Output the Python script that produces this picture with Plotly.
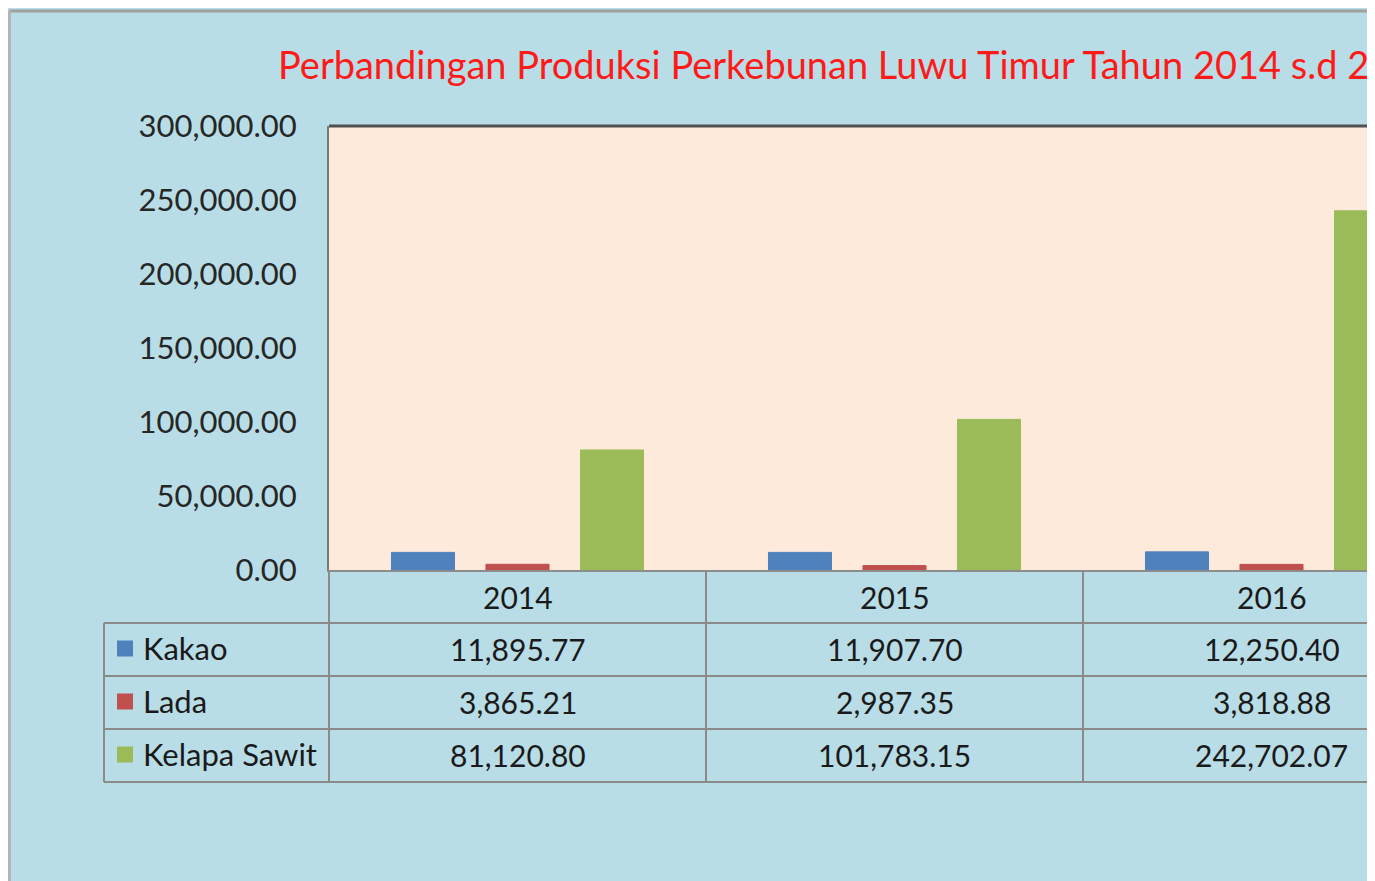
import plotly.graph_objects as go

# ---- data ----
years = ["2014", "2015", "2016"]
series_names = ["Kakao", "Lada", "Kelapa Sawit"]
kakao = [11895.77, 11907.70, 12250.40]
lada = [3865.21, 2987.35, 3818.88]
kelapa_sawit = [81120.80, 101783.15, 242702.07]
series_values = [kakao, lada, kelapa_sawit]
series_colors = ["#4F81BD", "#C0504D", "#9BBB59"]
title_text = "Perbandingan Produksi Perkebunan Luwu Timur Tahun 2014 s.d 2016"

# ---- layout geometry (screen pixels; page body margin is 8px) ----
OFF = 8
SW, SH = 1375, 881
W, H = SW - OFF, SH - OFF                 # figure size
SL, ST, SB = 329, 126, 570                # plot area left, top, bottom (screen)
L, T, B = SL - OFF, ST - OFF, SB - OFF    # in figure pixels
CAT_PX = 377                              # width of one category column
X0 = -0.5
X1 = X0 + (W - L) / CAT_PX                # visible category range (cut at right edge)

FONT = "Lato"
BG_BLUE = "#B8DDE7"
PEACH = "#FDEADA"
GRID = "#8A8A8A"
TXT = "#1a1a1a"


def px(sx):
    return (sx - OFF - L) / (W - L)


def py(sy):
    return (B - (sy - OFF)) / (B - T)


def cat_paper(v):
    return (v - X0) / (X1 - X0)


fig = go.Figure()
for name, vals, col in zip(series_names, series_values, series_colors):
    fig.add_trace(go.Bar(
        x=years, y=vals, name=name,
        marker=dict(color=col, line=dict(color=col, width=1)),
        showlegend=False,
    ))

shapes = []
annotations = []

# outer chart border (top and left)
shapes.append(dict(type="line", xref="paper", yref="paper",
                   x0=px(9), x1=px(SW + 10), y0=py(11), y1=py(11),
                   line=dict(color="#A0A0A0", width=3)))
shapes.append(dict(type="line", xref="paper", yref="paper",
                   x0=px(9.5), x1=px(9.5), y0=py(11), y1=py(SH + 10),
                   line=dict(color="#B4B4B4", width=3)))

# plot area top border
shapes.append(dict(type="line", xref="paper", yref="paper",
                   x0=0, x1=1, y0=1, y1=1,
                   line=dict(color="#505050", width=3)))

# ---- data table under the axis ----
row_h = 53
row_tops = [SB + row_h * (i + 1) for i in range(len(series_names))]   # screen y of each data row top
table_bottom = SB + row_h * (len(series_names) + 1)
leg_left = 104

for yl in row_tops + [table_bottom]:
    shapes.append(dict(type="line", xref="paper", yref="paper",
                       x0=px(leg_left), x1=px(SW + 10), y0=py(yl), y1=py(yl),
                       line=dict(color=GRID, width=2)))
shapes.append(dict(type="line", xref="paper", yref="paper",
                   x0=px(leg_left), x1=px(leg_left), y0=py(row_tops[0]), y1=py(table_bottom),
                   line=dict(color=GRID, width=2)))
for i in range(len(years) + 1):
    xb = cat_paper(i - 0.5)
    if xb <= 1:
        shapes.append(dict(type="line", xref="paper", yref="paper",
                           x0=xb, x1=xb, y0=py(SB), y1=py(table_bottom),
                           line=dict(color=GRID, width=2)))

# header row: years
for i, yr in enumerate(years):
    annotations.append(dict(xref="paper", yref="paper", x=cat_paper(i), y=py(SB + row_h / 2),
                            text=yr, showarrow=False, xanchor="center", yanchor="middle",
                            font=dict(family=FONT, size=30, color=TXT)))

# data rows
for r, (name, vals, col) in enumerate(zip(series_names, series_values, series_colors)):
    yc = row_tops[r] + row_h / 2
    shapes.append(dict(type="rect", xref="paper", yref="paper",
                       x0=px(117), x1=px(133), y0=py(yc + 7), y1=py(yc - 9),
                       fillcolor=col, line=dict(width=0)))
    annotations.append(dict(xref="paper", yref="paper", x=px(141), y=py(yc - 2),
                            text=name, showarrow=False, xanchor="left", yanchor="middle",
                            font=dict(family=FONT, size=31, color=TXT)))
    for i, v in enumerate(vals):
        annotations.append(dict(xref="paper", yref="paper", x=cat_paper(i), y=py(yc - 1),
                                text=f"{v:,.2f}", showarrow=False, xanchor="center",
                                yanchor="middle",
                                font=dict(family=FONT, size=30, color=TXT)))

# title
annotations.append(dict(xref="paper", yref="paper", x=px(276), y=py(64),
                        text=title_text, showarrow=False, xanchor="left", yanchor="middle",
                        font=dict(family=FONT, size=38, color="#FF1A1A")))

fig.update_layout(
    width=W, height=H,
    margin=dict(l=L, r=0, t=T, b=H - B, pad=0),
    paper_bgcolor=BG_BLUE,
    plot_bgcolor=PEACH,
    barmode="group",
    bargap=0.248,
    bargroupgap=0.333,
    shapes=shapes,
    annotations=annotations,
    xaxis=dict(type="category", range=[X0, X1], showticklabels=False, ticks="",
               showgrid=False, zeroline=False, showline=True, linecolor="#8C8C8C",
               linewidth=2, fixedrange=True),
    yaxis=dict(range=[0, 300000], dtick=50000, tick0=0, tickformat=",.2f",
               showgrid=False, zeroline=False, showline=True, linecolor="#7A7A7A",
               linewidth=2, ticks="", ticklabelstandoff=24,
               tickfont=dict(family=FONT, size=31, color="#262626"), fixedrange=True),
)

fig.write_html("out.html")
